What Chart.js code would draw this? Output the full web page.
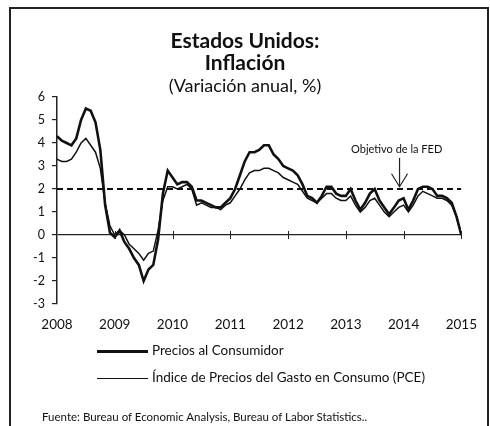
<!DOCTYPE html>
<html>
<head>
<meta charset="utf-8">
<script src="https://cdn.jsdelivr.net/npm/chart.js@4.4.1/dist/chart.umd.min.js"></script>
<style>
  body { margin: 0; background: #fff; font-family: Lato, sans-serif; color: #111; }
  #wrap { position: relative; width: 490px; height: 426px; overflow: hidden; }
  #frame { position: absolute; left: 9px; top: 7px; width: 476px; height: 440px; border: 2px solid #222; }
  #chart { position: absolute; left: 0; top: 0; }
  .t { position: absolute; left: 0; width: 490px; text-align: center; white-space: nowrap; }
  .leg { position: absolute; left: 97px; height: 0; }
  .leg span.l { position: absolute; left: 0; width: 51px; background: #111; }
  .leg span.x { position: absolute; left: 55px; top: -9px; font-size: 13.5px; white-space: nowrap; }
  #src { position: absolute; left: 42px; top: 410px; font-size: 11.5px; white-space: nowrap; }
</style>
</head>
<body>
<div id="wrap">
  <div id="frame"></div>
  <canvas id="chart" width="490" height="426"></canvas>
  <div class="t" style="top:27px;font-size:21px;font-weight:bold;">Estados Unidos:</div>
  <div class="t" style="top:49px;font-size:21px;font-weight:bold;">Inflación</div>
  <div class="t" style="top:74px;font-size:18px;">(Variación anual, %)</div>
  <div class="leg" style="top:351px;"><span class="l" style="top:-1px;height:2.5px;"></span><span class="x">Precios al Consumidor</span></div>
  <div class="leg" style="top:378px;"><span class="l" style="top:0;height:1.4px;"></span><span class="x">Índice de Precios del Gasto en Consumo (PCE)</span></div>
  <div id="src">Fuente: Bureau of Economic Analysis, Bureau of Labor Statistics..</div>
</div>
<script>
// monthly, Jan 2008 .. Jan 2015
const startYear = 2008
const cpi = [
  4.3, 4.1, 4.0, 3.9, 4.2, 5.0, 5.5, 5.4, 4.9, 3.7, 1.3, 0.1,
  -0.1, 0.2, -0.3, -0.6, -1.0, -1.3, -2.0, -1.5, -1.3, -0.2, 1.8, 2.8,
  2.5, 2.2, 2.3, 2.3, 2.1, 1.5, 1.5, 1.4, 1.3, 1.2, 1.2, 1.4,
  1.6, 2.0, 2.6, 3.2, 3.6, 3.6, 3.7, 3.9, 3.9, 3.5, 3.3, 3.0,
  2.9, 2.8, 2.6, 2.2, 1.7, 1.6, 1.4, 1.7, 2.1, 2.1, 1.8, 1.7,
  1.7, 2.0, 1.5, 1.1, 1.4, 1.8, 2.0, 1.5, 1.2, 0.9, 1.2, 1.5,
  1.6, 1.1, 1.5, 2.0, 2.1, 2.1, 2.0, 1.7, 1.7, 1.6, 1.4, 0.8,
  0.0
]
const pce = [
  3.3, 3.2, 3.2, 3.3, 3.6, 4.0, 4.2, 3.9, 3.6, 2.9, 1.4, 0.4,
  0.0, 0.2, 0.0, -0.4, -0.6, -0.8, -1.1, -0.8, -0.7, 0.2, 1.5, 2.1,
  2.1, 2.0, 2.1, 2.2, 2.0, 1.3, 1.4, 1.3, 1.2, 1.2, 1.1, 1.3,
  1.4, 1.7, 2.0, 2.4, 2.7, 2.8, 2.8, 2.9, 2.9, 2.8, 2.7, 2.5,
  2.4, 2.3, 2.2, 1.9, 1.6, 1.5, 1.4, 1.6, 1.8, 1.8, 1.6, 1.5,
  1.5, 1.7, 1.3, 1.0, 1.2, 1.5, 1.6, 1.3, 1.0, 0.8, 1.0, 1.2,
  1.3, 1.0, 1.3, 1.7, 1.9, 1.8, 1.7, 1.6, 1.6, 1.5, 1.3, 0.8,
  0.0
]
const fedTarget = 2
const yearTicks = [2008, 2009, 2010, 2011, 2012, 2013, 2014, 2015]

const toXY = arr => arr.map((v, i) => ({ x: startYear + i / 12, y: v }))

// year tick marks on the zero line + the "Objetivo de la FED" note
const extras = {
  id: 'extras',
  afterDatasetsDraw(chart) {
    const { ctx, scales: { x, y } } = chart
    const y0 = y.getPixelForValue(0)
    ctx.save()
    ctx.strokeStyle = '#222'
    ctx.lineWidth = 1
    yearTicks.slice(1).forEach(yr => {
      const px = Math.round(x.getPixelForValue(yr)) + 0.5
      ctx.beginPath(); ctx.moveTo(px, y0 - 4); ctx.lineTo(px, y0 + 4); ctx.stroke()
    })
    ctx.fillStyle = '#111'
    ctx.font = '11px Lato'
    ctx.textAlign = 'center'
    ctx.textBaseline = 'middle'
    ctx.fillText('Objetivo de la FED', x.getPixelForValue(2013.88), y.getPixelForValue(3.74))
    const ax = x.getPixelForValue(2013.93)
    const a1 = y.getPixelForValue(3.35), a2 = y.getPixelForValue(2.1)
    ctx.lineWidth = 1.2
    ctx.beginPath(); ctx.moveTo(ax, a1); ctx.lineTo(ax, a2); ctx.stroke()
    ctx.beginPath()
    ctx.moveTo(ax - 8, a2 - 13); ctx.lineTo(ax, a2); ctx.lineTo(ax + 8, a2 - 13)
    ctx.stroke()
    ctx.restore()
  }
}

new Chart(document.getElementById('chart'), {
  type: 'line',
  data: {
    datasets: [
      { label: 'Precios al Consumidor', data: toXY(cpi), borderColor: '#111', borderWidth: 2.6, pointRadius: 0 },
      { label: 'PCE', data: toXY(pce), borderColor: '#111', borderWidth: 1.5, pointRadius: 0 },
      { label: 'Objetivo', data: [{ x: 2008, y: fedTarget }, { x: 2015, y: fedTarget }],
        borderColor: '#111', borderWidth: 2, borderDash: [6, 4], pointRadius: 0 }
    ]
  },
  options: {
    responsive: false,
    animation: false,
    layout: { padding: { left: 12, right: 20, top: 97, bottom: 0 } },
    plugins: { legend: { display: false }, tooltip: { enabled: false } },
    scales: {
      x: {
        type: 'linear', min: 2008, max: 2015,
        afterBuildTicks: s => { s.ticks = yearTicks.map(v => ({ value: v })) },
        afterFit: s => { s.height = 122 },
        grid: { display: false, drawTicks: false },
        border: { display: false },
        ticks: { padding: 13, color: '#111', font: { family: 'Lato', size: 13.5 }, callback: v => String(v), maxRotation: 0 }
      },
      y: {
        min: -3, max: 6,
        afterFit: s => { s.width = 45 },
        grid: {
          drawTicks: true, tickLength: 5, tickColor: '#222',
          color: c => c.tick.value === 0 ? '#222' : 'transparent', lineWidth: 1.2
        },
        border: { display: true, color: '#222', width: 1.5 },
        ticks: { stepSize: 1, padding: 7, color: '#111', font: { family: 'Lato', size: 12.5 } }
      }
    }
  },
  plugins: [extras]
})
</script>
</body>
</html>
